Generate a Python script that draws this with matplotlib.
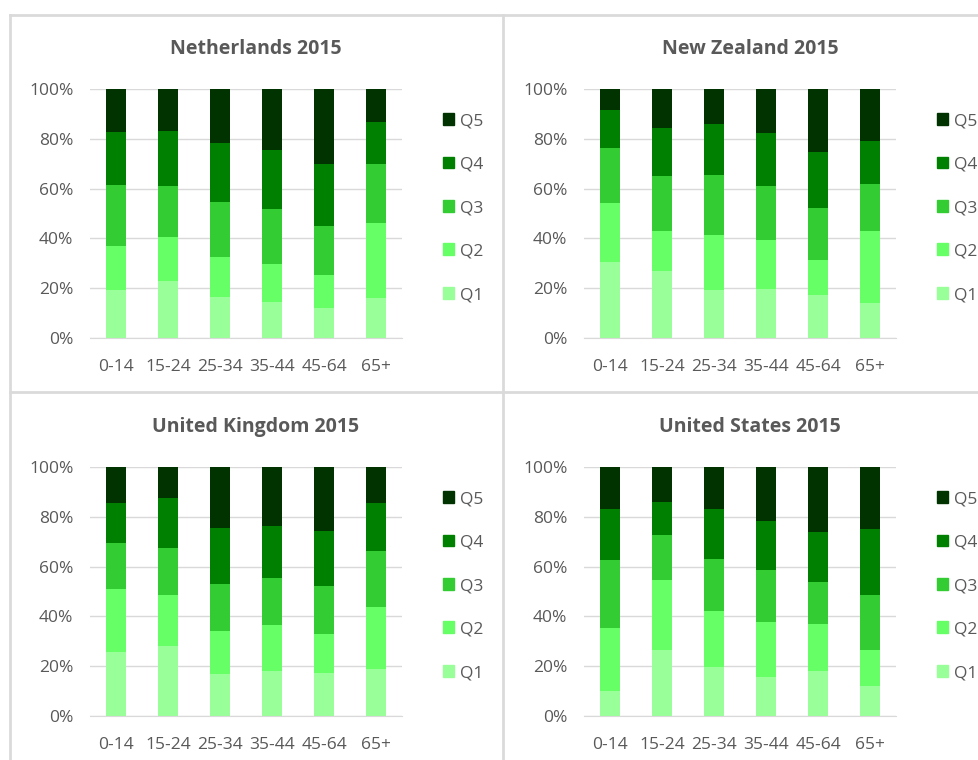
import matplotlib
matplotlib.use("Agg")
import matplotlib.pyplot as plt
import numpy as np
from matplotlib.lines import Line2D
from matplotlib.patches import Patch

plt.rcParams["font.family"] = ["Open Sans", "DejaVu Sans"]

age_groups = ["0-14", "15-24", "25-34", "35-44", "45-64", "65+"]
quintiles = ["Q1", "Q2", "Q3", "Q4", "Q5"]
colors = ["#99FF99", "#66FF66", "#33CC33", "#008000", "#003300"]

# share of each quintile (%) per age group, rows = age groups, cols = Q1..Q5
netherlands = [
    [19.2, 17.7, 24.4, 21.4, 17.3],
    [22.8, 17.7, 20.6, 22.1, 16.8],
    [16.4, 16.1, 22.1, 23.7, 21.7],
    [14.4, 15.3, 22.1, 23.6, 24.6],
    [12.1, 13.3, 19.6, 24.7, 30.3],
    [16.1, 30.1, 23.7, 16.8, 13.3],
]
new_zealand = [
    [30.5, 23.7, 22.2, 15.1, 8.5],
    [27.1, 15.9, 22.1, 19.2, 15.7],
    [19.2, 22.1, 24.1, 20.6, 14.0],
    [19.7, 19.5, 21.9, 21.2, 17.7],
    [17.2, 14.1, 20.9, 22.4, 25.4],
    [14.0, 29.0, 18.9, 17.4, 20.7],
]
united_kingdom = [
    [25.7, 25.2, 18.6, 15.9, 14.6],
    [28.1, 20.5, 18.7, 20.1, 12.6],
    [17.0, 17.0, 18.9, 22.5, 24.6],
    [18.2, 18.3, 18.9, 20.8, 23.8],
    [17.4, 15.7, 19.1, 22.1, 25.7],
    [18.9, 24.9, 22.5, 19.1, 14.6],
]
united_states = [
    [10.2, 25.1, 27.4, 20.6, 16.7],
    [26.5, 28.3, 17.8, 13.5, 13.9],
    [19.8, 22.2, 21.2, 19.8, 17.0],
    [15.7, 22.1, 20.8, 19.8, 21.6],
    [18.1, 18.8, 16.9, 20.1, 26.1],
    [12.2, 14.3, 22.0, 26.7, 24.8],
]

panels = [
    ("Netherlands 2015", netherlands, 90, 89),
    ("New Zealand 2015", new_zealand, 584, 89),
    ("United Kingdom 2015", united_kingdom, 90, 467),
    ("United States 2015", united_states, 584, 467),
]

W, H = 979, 760
fig = plt.figure(figsize=(W / 100, H / 100), dpi=100)
text_color = "#595959"
grid_color = "#D9D9D9"

# panel borders
border = "#DADADA"
for xs, ys in [([10, W], [15, 15]), ([10, W], [392, 392]),
               ([10, 10], [15, H]), ([503, 503], [15, H])]:
    fig.add_artist(Line2D([x / W for x in xs], [1 - y / H for y in ys],
                          color=border, lw=2, transform=fig.transFigure))

for title, data, px, py in panels:
    pw, ph = 312, 249
    ax = fig.add_axes([px / W, 1 - (py + ph) / H, pw / W, ph / H])
    vals = np.array(data) / 100.0
    x = np.arange(len(age_groups))
    bottom = np.zeros(len(age_groups))
    for i, q in enumerate(quintiles):
        ax.bar(x, vals[:, i], 0.4, bottom=bottom, color=colors[i], label=q, zorder=2)
        bottom += vals[:, i]

    ax.set_xlim(-0.5, len(age_groups) - 0.5)
    ax.set_ylim(0, 1)
    ax.set_yticks(np.linspace(0, 1, 6))
    ax.set_yticklabels([f"{int(v)}%" for v in np.linspace(0, 100, 6)])
    ax.set_xticks(x)
    ax.set_xticklabels(age_groups)
    ax.tick_params(length=0, colors=text_color, labelsize=12.5)
    ax.tick_params(axis="x", pad=15)
    ax.tick_params(axis="y", pad=12)
    ax.grid(axis="y", color=grid_color, lw=1, zorder=0)
    for s in ["top", "right", "left"]:
        ax.spines[s].set_visible(False)
    ax.spines["bottom"].set_color(grid_color)
    ax.spines["bottom"].set_zorder(3)

    fig.text((px + 166) / W, 1 - (py - 40) / H, title, ha="center", va="center",
             fontsize=14, fontweight="bold", color=text_color)

    handles = [Patch(color=colors[i], label=quintiles[i]) for i in range(4, -1, -1)]
    ax.legend(handles=handles, loc="center left", bbox_to_anchor=(1.13, 0.522),
              frameon=False, fontsize=12.5, labelcolor=text_color,
              handlelength=0.68, handleheight=0.68, handletextpad=0.3,
              labelspacing=1.58, borderaxespad=0, borderpad=0)

fig.savefig("out.png", dpi=100, facecolor="white")
